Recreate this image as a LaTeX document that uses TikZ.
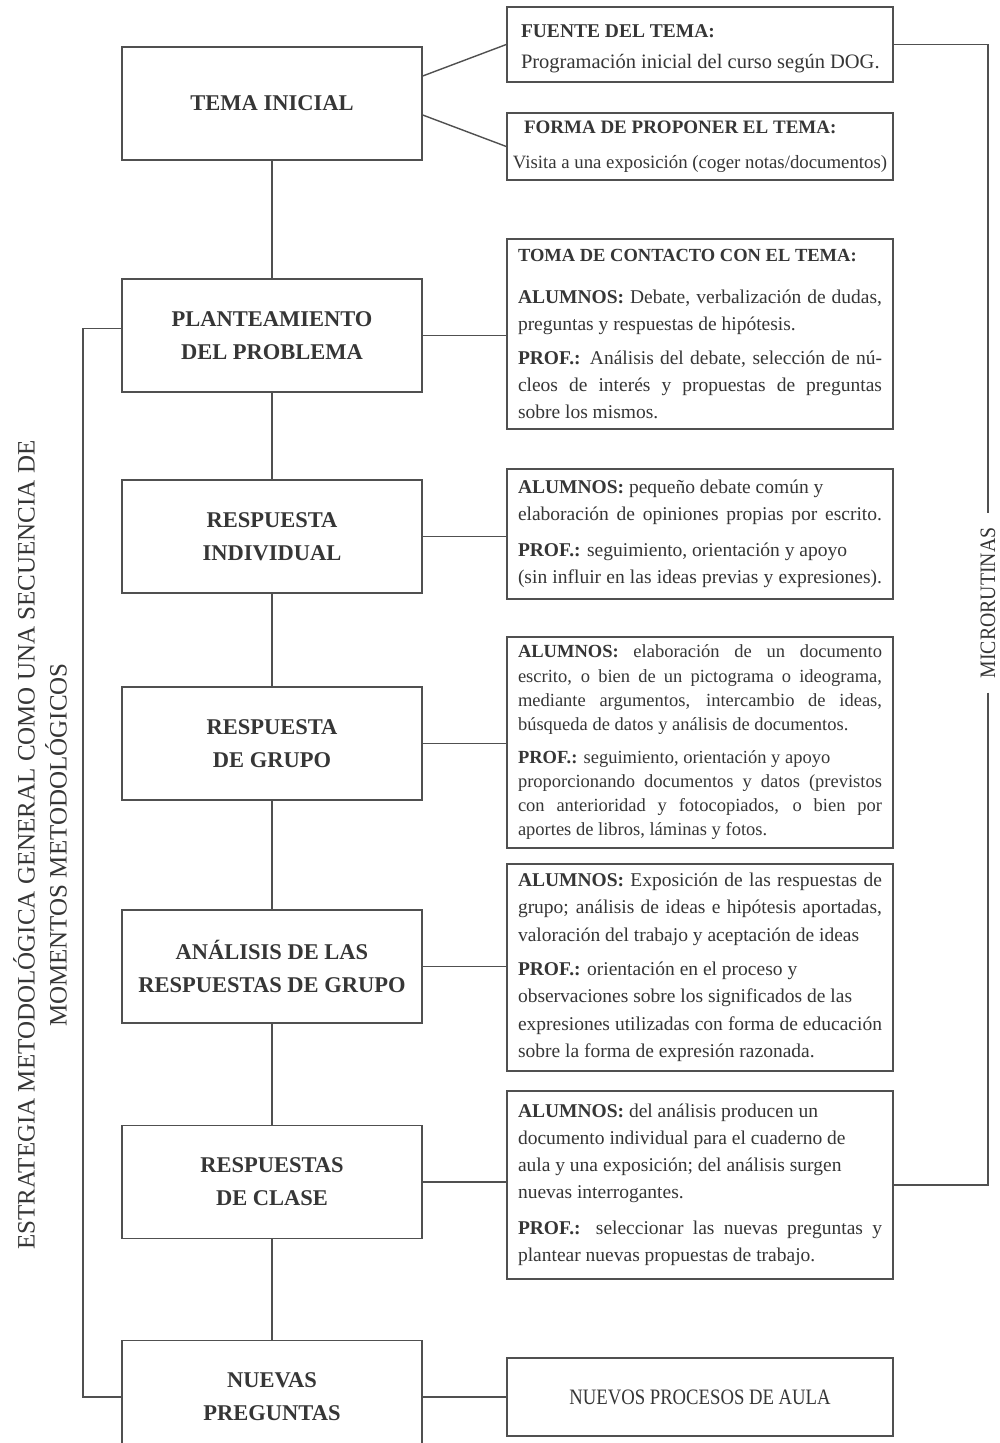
\documentclass[tikz,border=0pt]{standalone}
\usepackage{fontspec}
\setmainfont{Liberation Serif}
\usepackage{graphicx}
\definecolor{ink}{HTML}{363636}
\definecolor{lc}{HTML}{505050}
\newlength\twd \setlength\twd{364pt}
\newcommand\fsz[2]{\fontsize{#1pt}{#2pt}\selectfont}
\newcommand\JL[1]{\hbox to\twd{#1}}
\newcommand\RL[1]{\hbox to\twd{#1\hfil}}
\newcommand\CL[1]{\hbox to\twd{\hss#1\hss}}
\newcommand\TitleTxt[1]{{\bfseries\fsz{18.5}{27}#1}}
\tikzset{
  lbox/.style={draw=lc, line width=1.4pt, minimum width=300pt, minimum height=113pt,
    align=center, font=\bfseries\fsz{22.5}{33}, text=ink, inner sep=0pt},
  rbox/.style={draw=lc, line width=1.4pt, minimum width=386pt, inner sep=0pt, text=ink},
  conn/.style={draw=lc, line width=1.4pt},
}
\begin{document}
\begin{tikzpicture}[x=1pt,y=-1pt]
\clip (0,0) rectangle (1000,1443);
\fill[white] (0,0) rectangle (1000,1443);

% left column
\node[lbox] (tema)   at (272,103.5) {TEMA INICIAL};
\node[lbox] (plan)   at (272,335.5) {PLANTEAMIENTO\\DEL PROBLEMA};
\node[lbox] (ind)    at (272,536.5) {RESPUESTA\\INDIVIDUAL};
\node[lbox] (grupo)  at (272,743.5) {RESPUESTA\\DE GRUPO};
\node[lbox] (ana)    at (272,966.5) {ANÁLISIS DE LAS\\RESPUESTAS DE GRUPO};
\node[lbox] (clase)  at (272,1182) {RESPUESTAS\\DE CLASE};
\node[lbox] (nuevas) at (272,1397) {NUEVAS\\PREGUNTAS};

% right column
\node[rbox, minimum height=75pt] (fuente) at (700,44.5) {\vbox{\vskip9pt\fsz{20.5}{31}%
  \RL{\hspace{3pt}{\bfseries\fsz{19.5}{31}FUENTE DEL TEMA:}}%
  \RL{\hspace{3pt}Programación inicial del curso según DOG.}}};
\node[rbox, minimum height=67pt] (forma) at (700,146.5) {\vbox{\fsz{18.8}{35}%
  \RL{\hspace{6pt}{\bfseries\fsz{19}{35}FORMA DE PROPONER EL TEMA:}}%
  \CL{Visita a una exposición (coger notas/documentos)}}};
\node[rbox, minimum height=190pt] (toma) at (700,334) {\vbox{\fsz{19.5}{27}%
  \RL{\TitleTxt{TOMA DE CONTACTO CON EL TEMA:}}\vskip15pt
  \JL{\textbf{ALUMNOS:} Debate, verbalización de dudas,}
  \RL{preguntas y respuestas de hipótesis.}\vskip7pt
  \JL{\textbf{PROF.:} Análisis del debate, selección de nú-}
  \JL{cleos de interés y propuestas de preguntas}
  \RL{sobre los mismos.}}};
\node[rbox, minimum height=130pt] (ind2) at (700,534) {\vbox{\fsz{19.5}{27}%
  \RL{\textbf{ALUMNOS:} pequeño debate común y}
  \JL{elaboración de opiniones propias por escrito.}\vskip9pt
  \RL{\textbf{PROF.:} seguimiento, orientación y apoyo}
  \JL{(sin influir en las ideas previas y expresiones).}}};
\node[rbox, minimum height=211pt] (grupo2) at (700,742.5) {\vbox{\fsz{18.5}{24.3}%
  \JL{\textbf{ALUMNOS:} elaboración de un documento}
  \JL{escrito, o bien de un pictograma o ideograma,}
  \JL{mediante argumentos, intercambio de ideas,}
  \RL{búsqueda de datos y análisis de documentos.}\vskip8pt
  \RL{\textbf{PROF.:} seguimiento, orientación y apoyo}
  \JL{proporcionando documentos y datos (previstos}
  \JL{con anterioridad y fotocopiados, o bien por}
  \RL{aportes de libros, láminas y fotos.}}};
\node[rbox, minimum height=207pt] (ana2) at (700,967.5) {\vbox{\fsz{19.5}{27.5}%
  \JL{\textbf{ALUMNOS:} Exposición de las respuestas de}
  \JL{grupo; análisis de ideas e hipótesis aportadas,}
  \RL{valoración del trabajo y aceptación de ideas}\vskip6.5pt
  \RL{\textbf{PROF.:} orientación en el proceso y}
  \RL{observaciones sobre los significados de las}
  \JL{expresiones utilizadas con forma de educación}
  \RL{sobre la forma de expresión razonada.}}};
\node[rbox, minimum height=188pt] (clase2) at (700,1185) {\vbox{\fsz{19.5}{27}%
  \RL{\textbf{ALUMNOS:} del análisis producen un}
  \RL{documento individual para el cuaderno de}
  \RL{aula y una exposición; del análisis surgen}
  \RL{nuevas interrogantes.}\vskip9pt
  \JL{\textbf{PROF.:} seleccionar las nuevas preguntas y}
  \RL{plantear nuevas propuestas de trabajo.}}};
\node[rbox, minimum height=78pt, font=\fsz{22}{22}] (nuevos) at (700,1397)
  {\scalebox{0.85}[1]{NUEVOS PROCESOS DE AULA}};

% side labels
\node[rotate=90, inner xsep=14pt, inner ysep=0pt, text=ink, font=\fsz{22}{22}]
  (micro) at (988,603) {\scalebox{0.9}[1]{MICRORUTINAS}};
\node[rotate=90, align=center, text=ink, font=\fsz{25}{32}] (strat) at (40,845)
  {ESTRATEGIA METODOLÓGICA GENERAL COMO UNA SECUENCIA DE\\MOMENTOS METODOLÓGICOS};

% vertical chain
\draw[conn] (tema.south) -- (plan.north);
\draw[conn] (plan.south) -- (ind.north);
\draw[conn] (ind.south) -- (grupo.north);
\draw[conn] (grupo.south) -- (ana.north);
\draw[conn] (ana.south) -- (clase.north);
\draw[conn] (clase.south) -- (nuevas.north);

% links to right boxes
\draw[conn] ([yshift=27.5pt]tema.east) -- (fuente.west);
\draw[conn] ([yshift=-11.5pt]tema.east) -- (forma.west);
\draw[conn] (plan.east) -- (plan.east -| toma.west);
\draw[conn] (ind.east) -- (ind.east -| ind2.west);
\draw[conn] (grupo.east) -- (grupo.east -| grupo2.west);
\draw[conn] (ana.east) -- (ana.east -| ana2.west);
\draw[conn] (clase.east) -- (clase.east -| clase2.west);
\draw[conn] (nuevas.east) -- (nuevas.east -| nuevos.west);

% microrutinas bracket
\draw[conn] (fuente.east) -| (micro.east);
\draw[conn] (micro.west) |- (clase2.east);

% left bracket
\coordinate (lx) at (83,0);
\coordinate (bt) at ([yshift=7pt]plan.west);
\draw[conn] (bt) -- (bt -| lx) |- (nuevas.west);
\end{tikzpicture}
\end{document}
